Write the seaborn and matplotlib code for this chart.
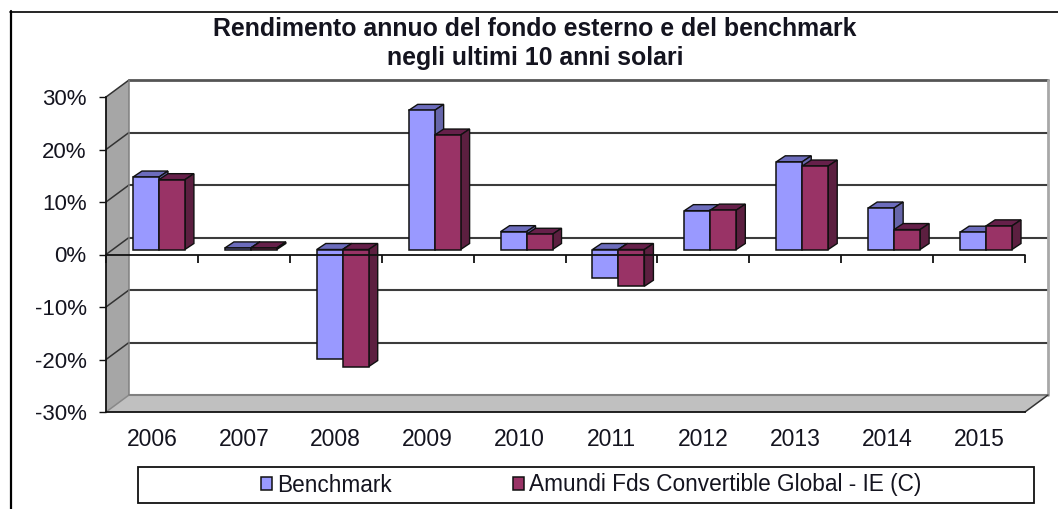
import numpy as np
import pandas as pd
import matplotlib
matplotlib.use("Agg")
import matplotlib.pyplot as plt
import seaborn as sns
from matplotlib.lines import Line2D
from matplotlib.patches import Polygon, Rectangle
from matplotlib.transforms import Affine2D

years = ["2006", "2007", "2008", "2009", "2010", "2011", "2012", "2013", "2014", "2015"]
benchmark = [13.8, 0.3, -20.8, 26.5, 3.4, -5.5, 7.4, 16.7, 7.9, 3.3]
fund = [13.3, 0.3, -22.3, 21.8, 2.9, -7.0, 7.5, 15.9, 3.8, 4.5]
series_names = ["Benchmark", "Amundi Fds Convertible Global - IE (C)"]
y_ticks = [-30, -20, -10, 0, 10, 20, 30]
title = "Rendimento annuo del fondo esterno e del benchmark\nnegli ultimi 10 anni solari"

W, H = 1058, 509
FONT = "Liberation Sans"
TXT = "#14141f"
front_colors = ["#9999FF", "#993366"]
top_colors = ["#6C6CBC", "#66204A"]
side_colors = ["#6666AA", "#5C1F40"]

sns.set_theme(style="white")
plt.rcParams["font.family"] = [FONT, "DejaVu Sans"]

df = pd.DataFrame({
    "Anno": years * 2,
    "Serie": [series_names[0]] * len(years) + [series_names[1]] * len(years),
    "Rendimento": benchmark + fund,
})

fig = plt.figure(figsize=(W / 100, H / 100), dpi=100, facecolor="white")
L, R, T, B = 106, 1025, 97, 412
ax = fig.add_axes([L / W, 1 - B / H, (R - L) / W, (B - T) / H])
ax.patch.set_visible(False)

sns.barplot(data=df, x="Anno", y="Rendimento", hue="Serie", palette=front_colors,
            width=0.565, gap=0, dodge=True, edgecolor="#101010", linewidth=1.1,
            saturation=1, ax=ax)
ax.set_xlim(-0.5, len(years) - 0.5)
ax.set_ylim(-30, 30)
ax.set_xlabel("")
ax.set_ylabel("")

px_x = 1 / ((R - L) / len(years))
px_y = 60 / (B - T)
wall_dx, wall_dy = 23 * px_x, 17 * px_y
xl, xr = -0.5, len(years) - 0.5

# Side wall, floor and back wall lines
ax.add_patch(Polygon([(xl, -30), (xl + wall_dx, -30 + wall_dy), (xl + wall_dx, 30 + wall_dy), (xl, 30)],
                     closed=True, fc="#A6A6A6", ec="none", zorder=0.5, clip_on=False))
ax.add_patch(Polygon([(xl, -30), (xl + wall_dx, -30 + wall_dy), (xr + wall_dx, -30 + wall_dy), (xr, -30)],
                     closed=True, fc="#C0C0C0", ec="none", zorder=0.5, clip_on=False))
for v in y_ticks:
    c, lw = ("#555555", 2.0) if v == 30 else ("#808080", 1.5) if v == -30 else ("#3c3c3c", 1.5)
    ax.plot([xl + wall_dx, xr + wall_dx], [v + wall_dy] * 2, color=c, lw=lw, zorder=1, clip_on=False)
    ax.plot([xl, xl + wall_dx], [v, v + wall_dy], color="#333333" if v > -30 else "#888888",
            lw=1.1, zorder=1, clip_on=False)
ax.plot([xl + wall_dx] * 2, [-30 + wall_dy, 30 + wall_dy], color="#808080", lw=1.1, zorder=1, clip_on=False)
ax.plot([xr + wall_dx] * 2, [-30 + wall_dy, 30 + wall_dy], color="#A8A8A8", lw=2, zorder=1, clip_on=False)
ax.plot([xr, xr + wall_dx], [-30, -30 + wall_dy], color="#333333", lw=1.1, zorder=1, clip_on=False)

# Give each bar its 3D depth
shift = ax.transData + Affine2D().translate(7, 5)
ddx, ddy = 9 * px_x, 6 * px_y
for s, container in enumerate(ax.containers):
    for c, bar in enumerate(container):
        x0, x1 = bar.get_x(), bar.get_x() + bar.get_width()
        h = bar.get_height() + bar.get_y()
        hi, lo = max(h, 0), min(h, 0)
        z = 3 + c * 0.1 + s * 0.03
        bar.set_transform(shift)
        bar.set_zorder(z + 0.01)
        bar.set_clip_on(False)
        kw = dict(closed=True, ec="#101010", lw=1.0, transform=shift, clip_on=False, zorder=z)
        ax.add_patch(Polygon([(x0, hi), (x0 + ddx, hi + ddy), (x1 + ddx, hi + ddy), (x1, hi)],
                             fc=top_colors[s], **kw))
        ax.add_patch(Polygon([(x1, lo), (x1 + ddx, lo + ddy), (x1 + ddx, hi + ddy), (x1, hi)],
                             fc=side_colors[s], **kw))

# Axes, ticks and labels
sns.despine(ax=ax, top=True, right=True)
for side in ("left", "bottom"):
    ax.spines[side].set_color("#111111")
    ax.spines[side].set_linewidth(1.3)
    ax.spines[side].set_zorder(2)
ax.set_yticks(y_ticks)
ax.set_yticklabels([f"{v}%" for v in y_ticks], fontsize=16, color=TXT)
ax.tick_params(axis="y", left=True, length=5, width=1, color="#111111", pad=9)
ax.tick_params(axis="x", bottom=False, pad=5.5, labelsize=16.5, labelcolor=TXT)

boundaries = np.arange(len(years) + 1) - 0.5
ax.plot([xl, xr], [0, 0], color="#111111", lw=1.3, zorder=6, clip_on=False)
ax.vlines(boundaries, -8 * px_y, 0, color="#111111", lw=1.3, zorder=6, clip_on=False)

# Legend
handles, labels = ax.get_legend_handles_labels()
ax.get_legend().remove()
fig.add_artist(Rectangle((138 / W, 1 - 503 / H), (1034 - 138) / W, (503 - 467) / H,
                         transform=fig.transFigure, fc="white", ec="#111111", lw=1.3))
leg = fig.legend(handles, labels, ncols=2, loc="center", bbox_to_anchor=(591 / W, 1 - 485 / H),
                 frameon=False, fontsize=16.3, handlelength=0.5, handleheight=0.5,
                 handletextpad=0.22, columnspacing=5.35, labelcolor=TXT)
leg.set_zorder(5)

# Title and outer frame
fig.text(535 / W, 1 - 43.5 / H, title, ha="center", va="center", fontsize=17.95, fontweight="bold",
         color=TXT, linespacing=1.25)
fig.add_artist(Line2D([10.5 / W, 10.5 / W], [0, 1 - 11 / H], color="black", lw=1.6))
fig.add_artist(Line2D([10 / W, 1], [1 - 11.5 / H, 1 - 11.5 / H], color="black", lw=1.2))

fig.savefig("out.png", dpi=100)
